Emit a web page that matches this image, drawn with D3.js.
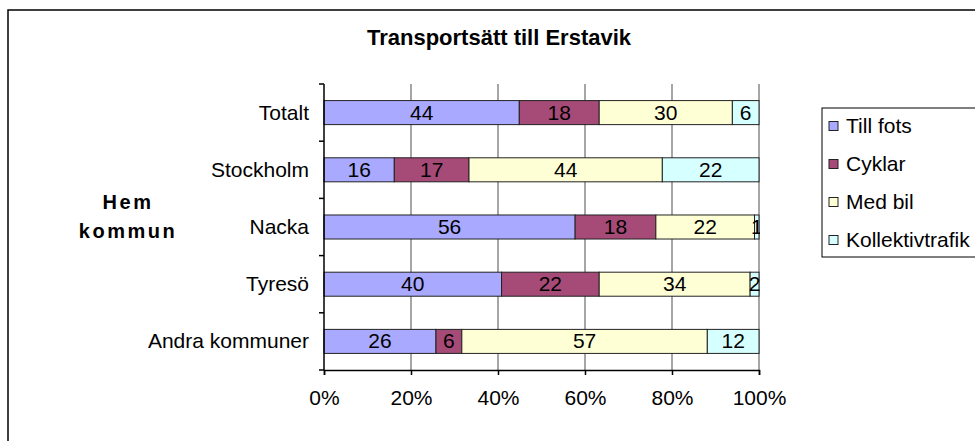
<!DOCTYPE html>
<html>
<head>
<meta charset="utf-8">
<script src="https://cdn.jsdelivr.net/npm/d3@7"></script>
<style>
  body { margin: 0; background: #fff; }
  svg { display: block; font-family: "Liberation Sans", Arial, sans-serif; }
</style>
</head>
<body>
<svg width="975" height="441"></svg>
<script>
// data
var categories = ["Totalt", "Stockholm", "Nacka", "Tyresö", "Andra kommuner"];
var seriesNames = ["Till fots", "Cyklar", "Med bil", "Kollektivtrafik"];
var tillFots = [44, 16, 56, 40, 26];
var cyklar = [18, 17, 18, 22, 6];
var medBil = [30, 44, 22, 34, 57];
var kollektivtrafik = [6, 22, 1, 2, 12];
var xTicks = [0, 0.2, 0.4, 0.6, 0.8, 1];

function drawChart() {
    var svg = d3.select("svg"),
        plotLeft = 324, plotRight = 759, plotTop = 84, plotBottom = 370;

    var color = d3.scaleOrdinal()
        .domain(seriesNames)
        .range(["#a9a9ff", "#a64b78", "#ffffd6", "#d6ffff"]);

    // build rows for the stack
    var rows = categories.map(function(c, i) {
        return {
            cat: c,
            "Till fots": tillFots[i],
            "Cyklar": cyklar[i],
            "Med bil": medBil[i],
            "Kollektivtrafik": kollektivtrafik[i]
        };
    });

    var stacked = d3.stack().keys(seriesNames).offset(d3.stackOffsetExpand)(rows);

    var x = d3.scaleLinear().domain([0, 1]).range([plotLeft, plotRight]);
    var y = d3.scaleBand().domain(categories).range([plotTop, plotBottom])
        .paddingInner(0.58).paddingOuter(0.29);

    // outer chart border
    svg.append("rect")
       .attr("x", 8).attr("y", 10)
       .attr("width", 1000).attr("height", 500)
       .attr("fill", "none").attr("stroke", "#000").attr("stroke-width", 1.5);

    // title
    svg.append("text")
       .attr("x", 499).attr("y", 45)
       .attr("text-anchor", "middle")
       .style("font-size", "22px").style("font-weight", "bold")
       .text("Transportsätt till Erstavik");

    // gridlines
    svg.append("g").selectAll("line")
       .data(xTicks.slice(1))
       .enter().append("line")
       .attr("x1", function(d) { return x(d); }).attr("x2", function(d) { return x(d); })
       .attr("y1", plotTop).attr("y2", plotBottom)
       .attr("stroke", "#888").attr("stroke-width", 1.5);

    // bars
    var layer = svg.append("g").selectAll("g")
       .data(stacked)
       .enter().append("g")
       .attr("fill", function(d) { return color(d.key); });

    layer.selectAll("rect")
       .data(function(d) { return d; })
       .enter().append("rect")
       .attr("x", function(d) { return x(d[0]); })
       .attr("width", function(d) { return x(d[1]) - x(d[0]); })
       .attr("y", function(d) { return y(d.data.cat); })
       .attr("height", y.bandwidth())
       .attr("stroke", "#222").attr("stroke-width", 1);

    // value labels, clipped to the plot area
    svg.append("clipPath").attr("id", "plotclip")
       .append("rect").attr("x", plotLeft).attr("y", plotTop)
       .attr("width", plotRight - plotLeft + 1).attr("height", plotBottom - plotTop);

    var labels = svg.append("g").attr("clip-path", "url(#plotclip)");
    stacked.forEach(function(s) {
        labels.selectAll(null)
          .data(s)
          .enter().append("text")
          .attr("x", function(d) { return (x(d[0]) + x(d[1])) / 2; })
          .attr("y", function(d) { return y(d.data.cat) + y.bandwidth() / 2 + 7; })
          .attr("text-anchor", "middle")
          .style("font-size", "21px")
          .text(function(d) { return d.data[s.key]; });
    });

    // axes
    var xAxis = svg.append("g")
       .attr("transform", "translate(0," + plotBottom + ")")
       .call(d3.axisBottom(x).tickValues(xTicks).tickFormat(d3.format(".0%")).tickSize(5).tickPadding(15));
    xAxis.select(".domain").attr("stroke", "#000").attr("stroke-width", 1.5);
    xAxis.selectAll(".tick line").attr("stroke", "#000").attr("stroke-width", 1.5);
    xAxis.selectAll("text").style("font-size", "21px")
         .style("font-family", "Liberation Sans, Arial, sans-serif").attr("fill", "#000");

    svg.append("line")
       .attr("x1", plotLeft).attr("x2", plotLeft).attr("y1", plotTop).attr("y2", plotBottom)
       .attr("stroke", "#000").attr("stroke-width", 1.5);

    // tick marks between categories
    svg.append("g").selectAll("line")
       .data(d3.range(categories.length + 1))
       .enter().append("line")
       .attr("x1", plotLeft - 5).attr("x2", plotLeft)
       .attr("y1", function(i) { return plotTop + i * y.step(); })
       .attr("y2", function(i) { return plotTop + i * y.step(); })
       .attr("stroke", "#000").attr("stroke-width", 1.5);

    svg.append("g").selectAll("text")
       .data(categories)
       .enter().append("text")
       .attr("x", plotLeft - 15)
       .attr("y", function(d) { return y(d) + y.bandwidth() / 2 + 7; })
       .attr("text-anchor", "end")
       .style("font-size", "21px")
       .text(function(d) { return d; });

    // y axis title
    var yt = svg.append("text")
       .attr("text-anchor", "middle")
       .style("font-size", "20px").style("font-weight", "bold")
       .style("letter-spacing", "2.5px");
    yt.append("tspan").attr("x", 128).attr("y", 209).text("Hem");
    yt.append("tspan").attr("x", 128).attr("y", 238).text("kommun");

    // legend
    var legend = svg.append("g");
    legend.append("rect")
       .attr("x", 822).attr("y", 108).attr("width", 200).attr("height", 149)
       .attr("fill", "#fff").attr("stroke", "#000").attr("stroke-width", 1);

    var item = legend.selectAll("g.item")
       .data(seriesNames)
       .enter().append("g")
       .attr("class", "item")
       .attr("transform", function(d, i) { return "translate(829," + (126 + i * 38) + ")"; });

    item.append("rect")
       .attr("x", 0).attr("y", -4.5).attr("width", 9).attr("height", 9)
       .attr("fill", function(d) { return color(d); })
       .attr("stroke", "#222").attr("stroke-width", 1);

    item.append("text")
       .attr("x", 17).attr("y", 7)
       .style("font-size", "21px")
       .text(function(d) { return d; });
}

drawChart();
</script>
</body>
</html>
